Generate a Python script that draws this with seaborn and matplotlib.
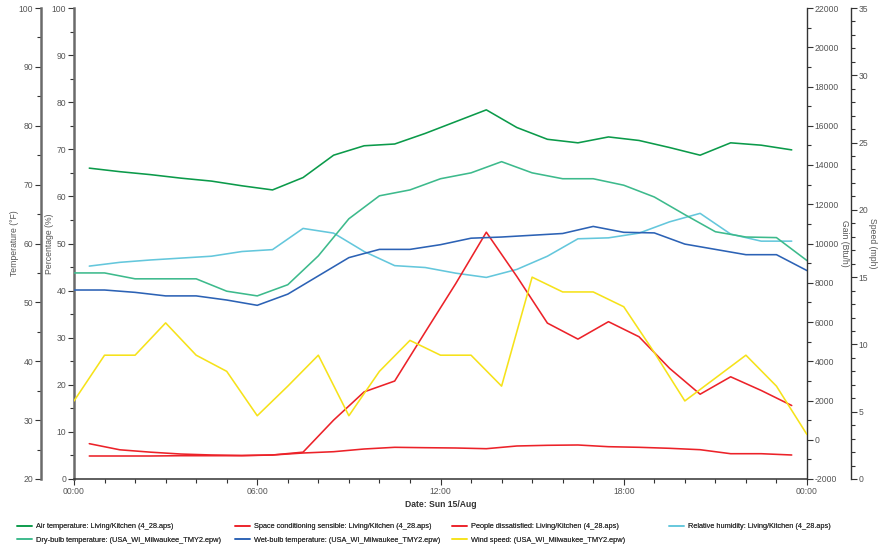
import matplotlib
matplotlib.use("Agg")
import matplotlib.pyplot as plt
import numpy as np
import pandas as pd
import seaborn as sns
from matplotlib.ticker import MultipleLocator, FixedLocator
from matplotlib.lines import Line2D

sns.set_theme(style="white")
plt.rcParams["font.family"] = ["Liberation Sans", "DejaVu Sans"]
plt.rcParams["axes.unicode_minus"] = False

# Simulation outputs are reported at the half hour, weather file data on the hour
half_hours = [h + 0.5 for h in range(24)]
whole_hours = list(range(25))

air_temp = [72.8, 72.2, 71.7, 71.1, 70.6, 69.8, 69.1, 71.2, 75.0, 76.6, 76.9, 78.7,
            80.7, 82.7, 79.7, 77.7, 77.1, 78.1, 77.5, 76.3, 75.0, 77.1, 76.7, 75.9]
space_cond = [-828, -828, -828, -813, -813, -813, -777, -675, -609, -471, -385, -405,
              -420, -456, -318, -283, -267, -354, -385, -436, -507, -711, -711, -777]
people_dissatisfied = [7.5, 6.2, 5.7, 5.3, 5.1, 5.0, 5.1, 5.7, 12.5, 18.5, 20.8, 31.2,
                       41.5, 52.4, 43.0, 33.1, 29.7, 33.4, 30.2, 23.5, 18.0, 21.7, 18.8, 15.6]
rel_humidity = [45.2, 46.0, 46.5, 46.9, 47.3, 48.3, 48.7, 53.2, 52.2, 48.3, 45.3, 44.9,
                43.7, 42.8, 44.5, 47.3, 51.0, 51.2, 52.2, 54.6, 56.4, 52.0, 50.5, 50.5]
dry_bulb = [55.0, 55.0, 54.0, 54.0, 54.0, 51.9, 51.1, 53.0, 57.9, 64.2, 68.1, 69.1, 71.0,
            72.0, 73.9, 72.0, 71.0, 71.0, 69.9, 67.9, 64.9, 62.0, 61.1, 61.0, 57.1]
wet_bulb = [52.1, 52.1, 51.7, 51.1, 51.1, 50.4, 49.5, 51.4, 54.5, 57.6, 59.0, 59.0, 59.8,
            60.9, 61.1, 61.4, 61.7, 62.9, 61.9, 61.8, 59.9, 59.0, 58.1, 58.1, 55.4]
wind_speed = [5.8, 9.2, 9.2, 11.6, 9.2, 8.0, 4.7, 6.9, 9.2, 4.7, 8.0, 10.3, 9.2,
              9.2, 6.9, 15.0, 13.9, 13.9, 12.8, 9.4, 5.8, 7.5, 9.2, 6.9, 3.3]

hour_ticks = [0, 6, 12, 18, 24]
hour_labels = ["00:00", "06:00", "12:00", "18:00", "00:00"]

names = {
    "air": "Air temperature: Living/Kitchen (4_28.aps)",
    "space": "Space conditioning sensible: Living/Kitchen (4_28.aps)",
    "ppd": "People dissatisfied: Living/Kitchen (4_28.aps)",
    "rh": "Relative humidity: Living/Kitchen (4_28.aps)",
    "dry": "Dry-bulb temperature: (USA_WI_Milwaukee_TMY2.epw)",
    "wet": "Wet-bulb temperature: (USA_WI_Milwaukee_TMY2.epw)",
    "wind": "Wind speed: (USA_WI_Milwaukee_TMY2.epw)",
}
colors = {
    "air": "#0b9a4a",
    "space": "#ec2229",
    "ppd": "#ec2229",
    "rh": "#64c7dc",
    "dry": "#3dba8c",
    "wet": "#2c62b5",
    "wind": "#f6e21a",
}

W, H = 883, 550
fig = plt.figure(figsize=(W / 100, H / 100), dpi=100)
x0, x1, ytop, ybot = 74, 807, 8, 479
ax = fig.add_axes([x0 / W, 1 - ybot / H, (x1 - x0) / W, (ybot - ytop) / H])
span = x1 - x0

ax_t = ax.twinx()
ax_g = ax.twinx()
ax_s = ax.twinx()

tick_color = "#555555"
fs = 6.2
lw = 1.15

# Percentage axis (main)
for side in ["top", "right"]:
    ax.spines[side].set_visible(False)
ax.spines["left"].set_color("#6a6a6a")
ax.spines["left"].set_linewidth(1.8)
ax.spines["bottom"].set_color("#333333")
ax.spines["bottom"].set_linewidth(1.1)

# Temperature axis, offset to the left
ax_t.yaxis.set_ticks_position("left")
ax_t.yaxis.set_label_position("left")
ax_t.spines["left"].set_position(("axes", (41 - x0) / span))
for side in ["top", "right", "bottom"]:
    ax_t.spines[side].set_visible(False)
ax_t.spines["left"].set_visible(True)
ax_t.spines["left"].set_color("#6a6a6a")
ax_t.spines["left"].set_linewidth(1.8)

# Gain axis on the right edge
for side in ["top", "left", "bottom"]:
    ax_g.spines[side].set_visible(False)
ax_g.spines["right"].set_color("#333333")
ax_g.spines["right"].set_linewidth(1.0)

# Speed axis, offset to the right
ax_s.spines["right"].set_position(("axes", (851 - x0) / span))
for side in ["top", "left", "bottom"]:
    ax_s.spines[side].set_visible(False)
ax_s.spines["right"].set_color("#333333")
ax_s.spines["right"].set_linewidth(1.0)

ax.set_xlim(0, 24)
ax.set_ylim(0, 100)
ax_t.set_ylim(20, 100)
ax_g.set_ylim(-2000, 22000)
ax_s.set_ylim(0, 35)

half_df = pd.DataFrame({
    "hour": half_hours, "air": air_temp, "space": space_cond,
    "ppd": people_dissatisfied, "rh": rel_humidity,
})
whole_df = pd.DataFrame({
    "hour": whole_hours, "dry": dry_bulb, "wet": wet_bulb, "wind": wind_speed,
})

sns.lineplot(data=whole_df, x="hour", y="wind", ax=ax_s, color=colors["wind"], lw=lw)
sns.lineplot(data=whole_df, x="hour", y="dry", ax=ax_t, color=colors["dry"], lw=lw)
sns.lineplot(data=whole_df, x="hour", y="wet", ax=ax_t, color=colors["wet"], lw=lw)
sns.lineplot(data=half_df, x="hour", y="air", ax=ax_t, color=colors["air"], lw=lw)
sns.lineplot(data=half_df, x="hour", y="rh", ax=ax, color=colors["rh"], lw=lw)
sns.lineplot(data=half_df, x="hour", y="ppd", ax=ax, color=colors["ppd"], lw=lw)
sns.lineplot(data=half_df, x="hour", y="space", ax=ax_g, color=colors["space"], lw=lw)

for a in (ax, ax_t, ax_g, ax_s):
    a.set_xlim(0, 24)
    a.patch.set_visible(False)

# Ticks
ax.xaxis.set_major_locator(FixedLocator(hour_ticks))
ax.xaxis.set_minor_locator(MultipleLocator(1))
ax.set_xticklabels(hour_labels)
ax.yaxis.set_major_locator(MultipleLocator(10))
ax.yaxis.set_minor_locator(MultipleLocator(5))
ax_t.yaxis.set_major_locator(MultipleLocator(10))
ax_t.yaxis.set_minor_locator(MultipleLocator(5))
ax_g.yaxis.set_major_locator(MultipleLocator(2000))
ax_g.yaxis.set_minor_locator(MultipleLocator(1000))
ax_s.yaxis.set_major_locator(MultipleLocator(5))
ax_s.yaxis.set_minor_locator(MultipleLocator(1))

ax.tick_params(axis="x", which="both", bottom=True, direction="out", colors="#333333",
               labelcolor=tick_color, labelsize=fs, pad=2)
ax.tick_params(axis="x", which="major", length=4, width=0.8)
ax.tick_params(axis="x", which="minor", length=3, width=0.8)
for a, side in ((ax, "left"), (ax_t, "left"), (ax_g, "right"), (ax_s, "right")):
    kw = {side: True}
    a.tick_params(axis="y", which="both", direction="out", colors="#333333",
                  labelcolor=tick_color, labelsize=fs, pad=1.5, **kw)
    a.tick_params(axis="y", which="major", length=4, width=0.8)
    a.tick_params(axis="y", which="minor", length=3, width=0.8)

# Axis titles
lab_kw = dict(fontsize=fs, color=tick_color)
ax_t.set_ylabel("Temperature (°F)", **lab_kw)
ax_t.yaxis.set_label_coords((19 - x0) / span, 0.5)
ax.set_ylabel("Percentage (%)", **lab_kw)
ax.yaxis.set_label_coords((54 - x0) / span, 0.5)
ax_g.set_ylabel("Gain (Btu/h)", rotation=270, va="center", **lab_kw)
ax_g.yaxis.set_label_coords((844 - x0) / span, 0.5)
ax_s.set_ylabel("Speed (mph)", rotation=270, va="center", **lab_kw)
ax_s.yaxis.set_label_coords((872 - x0) / span, 0.5)
ax.set_xlabel("Date: Sun 15/Aug", fontsize=fs, fontweight="bold", color="#333333")
ax.xaxis.set_label_coords(0.5, -(500 - ybot) / (ybot - ytop))

# Legend laid out in four columns beneath the chart
columns = [(17, ["air", "dry"]), (235, ["space", "wet"]),
           (452, ["ppd", "wind"]), (669, ["rh"])]
for xpos, keys in columns:
    handles = [Line2D([], [], color=colors[k], lw=lw) for k in keys]
    leg = fig.legend(handles, [names[k] for k in keys], loc="upper left",
                     bbox_to_anchor=(xpos / W, 1 - 523 / H), frameon=False,
                     fontsize=5.3, handlelength=2.1, handletextpad=0.45,
                     labelspacing=0.9, borderaxespad=0, borderpad=0)
    for t in leg.get_texts():
        t.set_color("#333333")
    fig.add_artist(leg)

fig.savefig("out.png", dpi=100, facecolor="white")
